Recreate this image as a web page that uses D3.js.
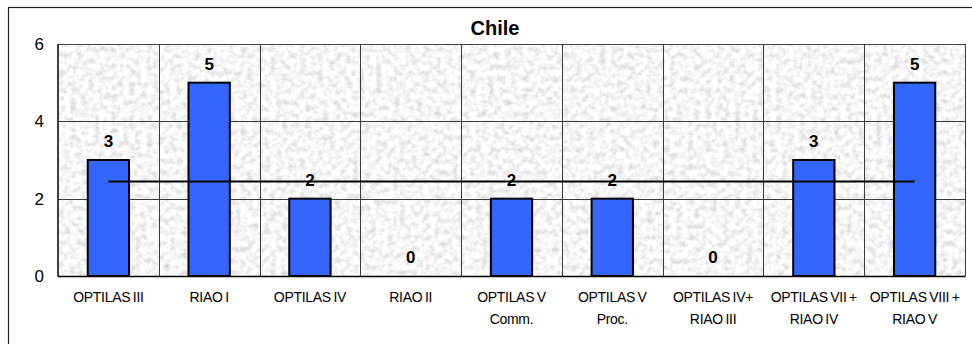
<!DOCTYPE html>
<html>
<head>
<meta charset="utf-8">
<script src="https://cdn.jsdelivr.net/npm/d3@7"></script>
<style>
  html, body { margin: 0; padding: 0; background: #ffffff; }
  svg { display: block; font-family: "Liberation Sans", Arial, sans-serif; }
</style>
</head>
<body>
<svg id="chart" width="972" height="344"></svg>
<script>
// Projects and number of participations for Chile
const categories = [
  ["OPTILAS III"],
  ["RIAO I"],
  ["OPTILAS IV"],
  ["RIAO II"],
  ["OPTILAS V", "Comm."],
  ["OPTILAS V", "Proc."],
  ["OPTILAS IV+", "RIAO III"],
  ["OPTILAS VII +", "RIAO IV"],
  ["OPTILAS VIII +", "RIAO V"]
];
const values = [3, 5, 2, 0, 2, 2, 0, 3, 5];
const yTicks = [0, 2, 4, 6];
const title = "Chile";

const svg = d3.select("#chart");
const plot = { left: 58, top: 44, right: 965, bottom: 276 };

// Granite-like texture for the plot background
const defs = svg.append("defs");
const filt = defs.append("filter").attr("id", "granite")
  .attr("x", 0).attr("y", 0).attr("width", 1).attr("height", 1)
  .attr("filterUnits", "objectBoundingBox");
filt.append("feTurbulence").attr("type", "fractalNoise")
  .attr("baseFrequency", "0.17").attr("numOctaves", 4).attr("seed", 11).attr("result", "noise");
filt.append("feColorMatrix").attr("in", "noise").attr("type", "matrix")
  .attr("values", "0.65 0 0 0 0.6  0.65 0 0 0 0.6  0.65 0 0 0 0.6  0 0 0 0 1");

// Outer chart frame
svg.append("rect")
  .attr("x", 8.5).attr("y", 7.5).attr("width", 980).attr("height", 360)
  .attr("fill", "#ffffff").attr("stroke", "#222").attr("stroke-width", 1.2);

const labelsKey = categories.map(d => d.join(" "));
const x = d3.scaleBand().domain(labelsKey).range([plot.left, plot.right]).padding(0);
const y = d3.scaleLinear().domain([0, 6]).range([plot.bottom, plot.top]);

svg.append("rect")
  .attr("x", plot.left).attr("y", plot.top)
  .attr("width", plot.right - plot.left).attr("height", plot.bottom - plot.top)
  .attr("fill", "#e8e8e8").attr("filter", "url(#granite)");

// Grid lines
const grid = svg.append("g").attr("stroke", "#3a3a3a").attr("stroke-width", 1).attr("shape-rendering", "crispEdges");
grid.selectAll("line.h").data(yTicks.filter(t => t > 0)).join("line")
  .attr("x1", plot.left).attr("x2", plot.right)
  .attr("y1", d => Math.round(y(d)) + 0.5).attr("y2", d => Math.round(y(d)) + 0.5);
grid.selectAll("line.v").data(labelsKey.slice(1).concat(["__end"])).join("line")
  .attr("x1", (d, i) => Math.round(i < labelsKey.length - 1 ? x(d) : plot.right) + 0.5)
  .attr("x2", (d, i) => Math.round(i < labelsKey.length - 1 ? x(d) : plot.right) + 0.5)
  .attr("y1", plot.top).attr("y2", plot.bottom);

// Bars
const barFrac = 0.41;
svg.append("g").selectAll("rect").data(values).join("rect")
  .attr("x", (d, i) => x(labelsKey[i]) + x.bandwidth() * (1 - barFrac) / 2)
  .attr("width", x.bandwidth() * barFrac)
  .attr("y", d => y(d))
  .attr("height", d => y(0) - y(d))
  .attr("fill", "#3366ff")
  .attr("stroke", "#000").attr("stroke-width", 2);

// Average line across all projects
const avg = d3.mean(values);
svg.append("line")
  .attr("x1", x(labelsKey[0]) + x.bandwidth() / 2)
  .attr("x2", x(labelsKey[labelsKey.length - 1]) + x.bandwidth() / 2)
  .attr("y1", y(avg)).attr("y2", y(avg))
  .attr("stroke", "#000").attr("stroke-width", 2);

// Value labels
svg.append("g").selectAll("text").data(values).join("text")
  .attr("x", (d, i) => x(labelsKey[i]) + x.bandwidth() / 2)
  .attr("y", d => y(d) - 13)
  .attr("text-anchor", "middle")
  .attr("font-size", 17).attr("font-weight", "bold").attr("fill", "#000")
  .text(d => d);

// Axes lines
svg.append("line").attr("x1", plot.left).attr("x2", plot.left)
  .attr("y1", plot.top).attr("y2", plot.bottom + 0.5)
  .attr("stroke", "#000").attr("stroke-width", 1.5);
svg.append("line").attr("x1", plot.left).attr("x2", plot.right + 0.5)
  .attr("y1", plot.bottom + 0.5).attr("y2", plot.bottom + 0.5)
  .attr("stroke", "#000").attr("stroke-width", 1.5);
svg.append("line").attr("x1", plot.left).attr("x2", plot.right)
  .attr("y1", plot.top + 0.5).attr("y2", plot.top + 0.5)
  .attr("stroke", "#444").attr("stroke-width", 1);

// Y tick labels
svg.append("g").selectAll("text").data(yTicks).join("text")
  .attr("x", 44).attr("y", d => y(d) + 6)
  .attr("text-anchor", "end")
  .attr("font-size", 17).attr("fill", "#000")
  .text(d => d);

// Category labels
const cat = svg.append("g").selectAll("text").data(categories).join("text")
  .attr("text-anchor", "middle")
  .attr("font-size", 14).attr("fill", "#000")
  .attr("letter-spacing", "-0.3")
  .attr("word-spacing", "-1");
cat.each(function (lines, i) {
  const cx = x(labelsKey[i]) + x.bandwidth() / 2;
  d3.select(this).selectAll("tspan").data(lines).join("tspan")
    .attr("x", cx)
    .attr("y", (d, j) => 302 + j * 22)
    .text(d => d);
});

// Title
svg.append("text")
  .attr("x", 495).attr("y", 35)
  .attr("text-anchor", "middle")
  .attr("font-size", 20).attr("font-weight", "bold").attr("fill", "#000")
  .text(title);
</script>
</body>
</html>
